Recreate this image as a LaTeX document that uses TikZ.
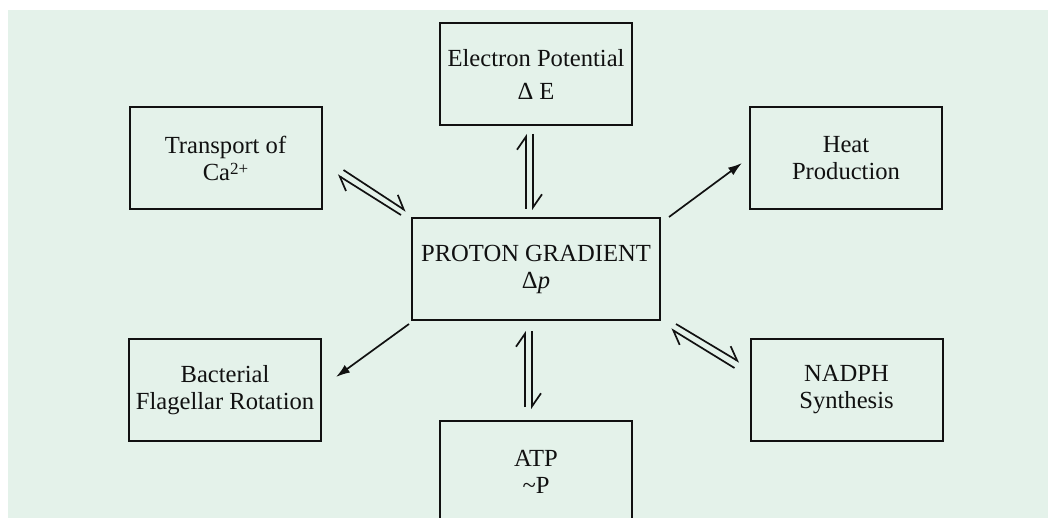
\documentclass[tikz,border=0pt]{standalone}
\usepackage{fontspec}
\setmainfont{Liberation Serif}
\usepackage{tikz}
\usetikzlibrary{calc,arrows.meta}
\usetikzlibrary{positioning}
\definecolor{pg-bg}{HTML}{E4F2EA}
\definecolor{pg-text}{HTML}{111111}

\begin{document}
\begin{tikzpicture}[x=0.5pt, y=-0.5pt, >=latex,
    box/.style={draw=pg-text, line width=1pt, minimum width=96pt, minimum height=51pt,
        inner sep=0pt, align=center, text=pg-text, font=\fontsize{12.3}{13.5}\selectfont},
    harp/.style={line width=0.85pt, pg-text, -{Straight Barb[left, length=6.5pt, width=9pt]}},
    arr/.style={line width=0.85pt, pg-text, -{Latex[length=7pt, width=4.6pt]}}]
        \clip (0,0) rectangle (1048,518);
        \fill[pg-bg] (8,10) rectangle (1048,518);
        % boxes
        \node[box, minimum width=124pt] (prot) at (536,269) {PROTON GRADIENT\\Δ\textit{p}};
        \node[box] (elec) at (536,74) {Electron Potential\\[3pt]Δ E};
        \node[box] (trans) at (225.5,158) {Transport of\\Ca\raisebox{3pt}{\fontsize{8.5}{8.5}\selectfont 2+}};
        \node[box] (heat) at (846,158) {Heat\\Production};
        \node[box] (bact) at (225,390) {Bacterial\\Flagellar Rotation};
        \node[box] (nadph) at (846.5,390) {NADPH\\Synthesis};
        \node[box] (atp) at (536,472) {ATP\\\textasciitilde P};
        % equilibria
        \draw[harp] ($(elec.south)+(-3,8)$) -- ($(prot.north)+(-3,-7)$);
        \draw[harp] ($(prot.north)+(-10,-8)$) -- ($(elec.south)+(-10,8)$);
        \draw[harp] ($(prot.south)+(-4,10)$) -- ($(atp.north)+(-4,-11)$);
        \draw[harp] ($(atp.north)+(-11,-13)$) -- ($(prot.south)+(-11,10)$);
        \draw[harp] ($(trans.south east)+(21,-40)$) -- ($(prot.north west)+(-5,-6)$);
        \draw[harp] ($(prot.north west)+(-10,-2)$) -- ($(trans.south east)+(15,-35)$);
        \draw[harp] ($(prot.south east)+(15,3)$) -- ($(nadph.north west)+(-10,24)$);
        \draw[harp] ($(nadph.north west)+(-15,30)$) -- ($(prot.south east)+(10,8)$);
        % one way
        \draw[arr] ($(prot.north east)+(8,0)$) -- ($(heat.west)+(-7,5)$);
        \draw[arr] ($(prot.south west)+(-2,3)$) -- ($(bact.east)+(14,-13)$);
    \end{tikzpicture}
\end{document}
